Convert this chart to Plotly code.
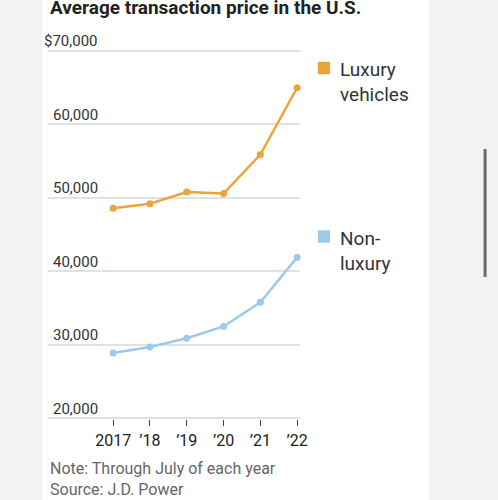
import plotly.graph_objects as go

# ---- data ----
years = [2017, 2018, 2019, 2020, 2021, 2022]
year_labels = ["2017", "\u201918", "\u201919", "\u201920", "\u201921", "\u201922"]
luxury = [48600, 49200, 50800, 50600, 55900, 65000]
non_luxury = [28900, 29700, 30900, 32500, 35800, 41900]
y_ticks = [20000, 30000, 40000, 50000, 60000, 70000]
y_tick_labels = ["20,000", "30,000", "40,000", "50,000", "60,000", "$70,000"]
series_names = [["Luxury", "vehicles"], ["Non-", "luxury"]]
series_colors = ["#eba43a", "#9dc9ec"]

W, H = 498, 500
FONT = "Roboto"

def px_x(p):
    return p / W

def px_y(p):
    return 1 - p / H

fig = go.Figure()
for vals, col in zip([luxury, non_luxury], series_colors):
    fig.add_trace(go.Scatter(
        x=years, y=vals, mode="lines+markers",
        line=dict(color=col, width=2.5),
        marker=dict(color=col, size=7),
        cliponaxis=False, showlegend=False, hoverinfo="skip",
    ))

# y range / domain (gridline 70k at y=51px, 20k at y=418.3px)
ppu = (418.3 - 51) / 50000.0
pad = 150
y0_px = 418.3 + pad * ppu
y1_px = 51 - pad * ppu
# x range: 2017 at 115px, 2022 at 302px, gridlines from 49 to 304
xppu = (302 - 115) / 5.0
x_left = 49
x_right = 305
xr0 = 2017 - (115 - x_left) / xppu
xr1 = 2022 + (x_right - 302) / xppu

fig.update_layout(
    width=W, height=H,
    margin=dict(l=0, r=0, t=0, b=0),
    paper_bgcolor="#f2f2f2",
    plot_bgcolor="rgba(0,0,0,0)",
    xaxis=dict(
        domain=[px_x(x_left), px_x(x_right)],
        range=[xr0, xr1],
        tickvals=years, ticktext=year_labels,
        showgrid=False, zeroline=False, showline=False,
        ticks="outside", ticklen=6, tickwidth=1.3, tickcolor="#444",
        tickfont=dict(family=FONT, size=16, color="#222"),
        anchor="y",
    ),
    yaxis=dict(
        domain=[px_y(y0_px), px_y(y1_px)],
        range=[20000 - pad, 70000 + pad],
        tickvals=y_ticks, showticklabels=False,
        showgrid=True, gridcolor="#e1e1e1", gridwidth=1.5,
        zeroline=False, showline=False,
    ),
    shapes=[
        dict(type="rect", xref="paper", yref="paper", layer="below",
             x0=px_x(43), x1=px_x(436), y0=0, y1=1,
             fillcolor="#ffffff", line=dict(width=0)),
        dict(type="line", xref="paper", yref="paper",
             x0=px_x(493), x1=px_x(493), y0=px_y(149), y1=px_y(277),
             line=dict(color="#6b6b6b", width=3)),
    ],
)

ann = []
# y tick labels (above gridlines, right aligned)
for v, t in zip(y_ticks, y_tick_labels):
    ann.append(dict(x=px_x(102), xref="paper", y=v, yref="y",
                    text=t, showarrow=False, xanchor="right", yanchor="bottom",
                    yshift=-1.5, font=dict(family=FONT, size=15, color="#333")))

# legend items
leg_y = [68, 236.5]
for names, col, ly in zip(series_names, series_colors, leg_y):
    fig.add_shape(type="rect", xref="paper", yref="paper",
                  x0=px_x(323), x1=px_x(335.5), y0=px_y(ly + 6.2), y1=px_y(ly - 6.2),
                  fillcolor=col, line=dict(width=0))
    ann.append(dict(x=px_x(344), xref="paper", y=px_y(ly - 12), yref="paper",
                    text="<br>".join(names), showarrow=False, xanchor="left",
                    yanchor="top", align="left",
                    font=dict(family=FONT, size=19, color="#333")))

# title
ann.append(dict(x=px_x(49), xref="paper", y=px_y(-6), yref="paper",
                text="<b>Average transaction price in the U.S.</b>", showarrow=False,
                xanchor="left", yanchor="top",
                font=dict(family=FONT, size=19, color="#222")))
# notes
ann.append(dict(x=px_x(49), xref="paper", y=px_y(457), yref="paper",
                text="Note: Through July of each year<br>Source: J.D. Power",
                showarrow=False, xanchor="left", yanchor="top", align="left",
                font=dict(family=FONT, size=16, color="#666")))

fig.update_layout(annotations=ann)
fig.write_html("out.html")
